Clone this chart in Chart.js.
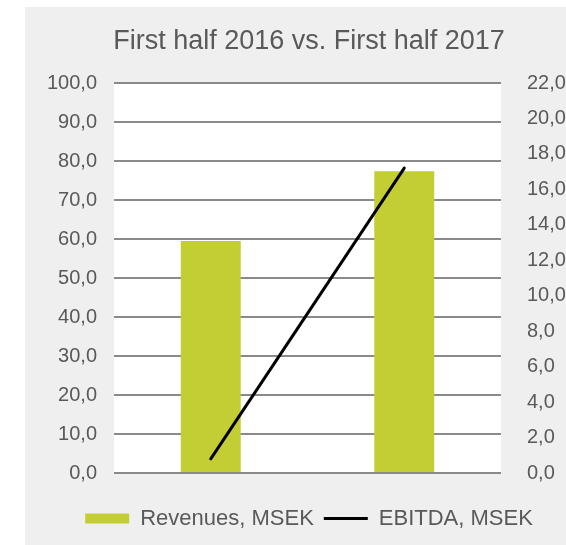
<!DOCTYPE html>
<html lang="en">
<head>
<meta charset="UTF-8">
<title>First half 2016 vs. First half 2017</title>
<script src="https://cdn.jsdelivr.net/npm/chart.js"></script>
<style>
  body {
    margin: 0;
    overflow: hidden;
    background: #ffffff;
    font-family: "Liberation Sans", Arial, sans-serif;
  }
  #panel {
    position: absolute;
    left: 25px;
    top: 7px;
    width: 568px;
    height: 538px;
    background: #efefef;
  }
</style>
</head>
<body>
<div id="panel"><canvas id="halfYearChart" width="568" height="538"></canvas></div>

<script>
const periods = ['First half 2016', 'First half 2017'];
const revenues = [59.5, 77.4];   // MSEK, left axis
const ebitda = [0.8, 17.2];      // MSEK, right axis
const revenueTicks = [0, 10, 20, 30, 40, 50, 60, 70, 80, 90, 100];
const ebitdaTicks = [0, 2, 4, 6, 8, 10, 12, 14, 16, 18, 20, 22];

const textColor = '#595959';
const fontFamily = '"Liberation Sans", Arial, sans-serif';
const fmt = v => v.toFixed(1).replace('.', ',');

// white plot area on the grey panel
const plotBackground = {
  id: 'plotBackground',
  beforeDraw(chart) {
    const { ctx, chartArea: a } = chart;
    ctx.save();
    ctx.fillStyle = '#ffffff';
    ctx.fillRect(a.left, a.top, a.width, a.height);
    ctx.restore();
  }
};

const ctx = document.getElementById('halfYearChart').getContext('2d');
new Chart(ctx, {
  type: 'bar',
  data: {
    labels: periods,
    datasets: [
      {
        type: 'bar',
        label: 'Revenues, MSEK',
        data: revenues,
        yAxisID: 'y',
        backgroundColor: '#c3ce35',
        barPercentage: 0.31,
        categoryPercentage: 1,
        order: 1
      },
      {
        type: 'line',
        label: 'EBITDA, MSEK',
        data: ebitda,
        yAxisID: 'y1',
        borderColor: '#000000',
        backgroundColor: '#000000',
        borderWidth: 3,
        borderCapStyle: 'round',
        pointRadius: 0,
        fill: false,
        order: 0
      }
    ]
  },
  options: {
    responsive: false,
    animation: false,
    devicePixelRatio: 1,
    layout: { padding: { left: 0, right: 0, top: 0, bottom: 5.5 } },
    scales: {
      x: {
        ticks: { display: false },
        grid: { display: false, drawTicks: false },
        border: { display: false },
        afterFit: s => { s.height = 24.5; }
      },
      y: {
        position: 'left',
        min: 0,
        max: 100,
        afterBuildTicks: s => { s.ticks = revenueTicks.map(v => ({ value: v })); },
        afterFit: s => { s.width = 89; },
        ticks: {
          padding: 17,
          color: textColor,
          font: { family: fontFamily, size: 20 },
          callback: v => fmt(v)
        },
        grid: { color: '#8a8a8a', lineWidth: 2, drawTicks: false },
        border: { display: false }
      },
      y1: {
        position: 'right',
        min: 0,
        max: 22,
        afterBuildTicks: s => { s.ticks = ebitdaTicks.map(v => ({ value: v })); },
        afterFit: s => { s.width = 92; },
        ticks: {
          padding: 26,
          color: textColor,
          font: { family: fontFamily, size: 20 },
          callback: v => fmt(v)
        },
        grid: { display: false, drawTicks: false },
        border: { display: false }
      }
    },
    plugins: {
      title: {
        display: true,
        text: 'First half 2016 vs. First half 2017',
        color: textColor,
        font: { family: fontFamily, size: 27, weight: 'normal' },
        padding: { top: 18.4, bottom: 25.2 }
      },
      legend: {
        position: 'bottom',
        labels: {
          usePointStyle: true,
          pointStyleWidth: 44,
          boxHeight: 10,
          padding: 10,
          color: textColor,
          font: { family: fontFamily, size: 22 },
          generateLabels(chart) {
            const items = Chart.defaults.plugins.legend.labels.generateLabels(chart);
            items.sort((a, b) => a.datasetIndex - b.datasetIndex);
            items.forEach(it => { it.pointStyle = it.datasetIndex === 0 ? 'rect' : 'line'; });
            return items;
          }
        }
      },
      tooltip: { enabled: false }
    }
  },
  plugins: [plotBackground]
});
</script>
</body>
</html>
